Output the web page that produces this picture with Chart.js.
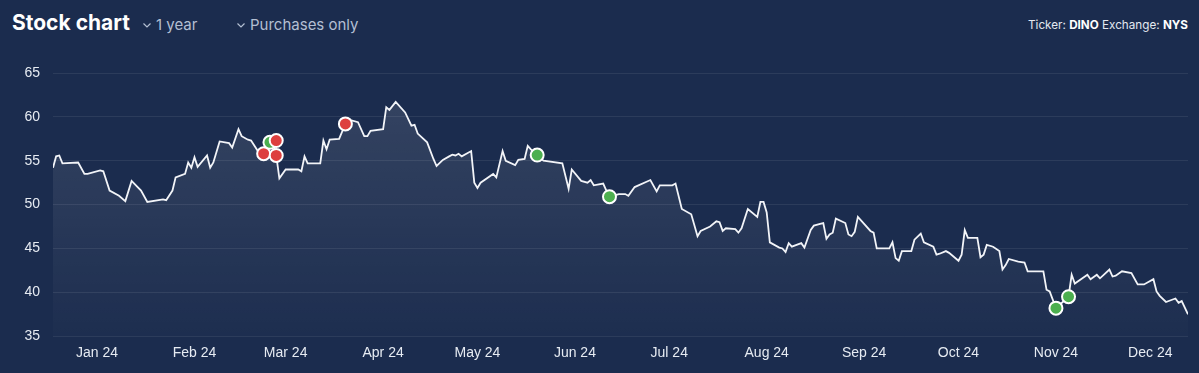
<!DOCTYPE html>
<html>
<head>
<meta charset="utf-8">
<script src="https://cdn.jsdelivr.net/npm/chart.js@4.4.1/dist/chart.umd.min.js"></script>
<style>
  html, body { margin: 0; padding: 0; background: #1b2c4e; }
  body { width: 1199px; height: 373px; position: relative; overflow: hidden; font-family: Inter, "Noto Sans", sans-serif; }
  .abs { position: absolute; line-height: 1; white-space: nowrap; }
  #title { left: 12px; top: 12px; font-size: 21px; font-weight: 700; color: #ffffff; }
  .pick { font-size: 15px; color: #b3bfd2; top: 17px; }
  .pick svg { vertical-align: 2px; margin-right: 5px; }
  #ticker { right: 11px; top: 20px; font-size: 11.7px; color: #e3e8f0; }
  #ticker b { color: #fff; }
  #wrap { position: absolute; left: 0; top: 0; width: 1199px; height: 373px; }
</style>
</head>
<body>
<div id="title" class="abs">Stock chart</div>
<div class="abs pick" style="left:143px"><svg width="8" height="5"><polyline points="0.5,0.5 4,4 7.5,0.5" fill="none" stroke="#b3bfd2" stroke-width="1.2"/></svg>1 year</div>
<div class="abs pick" style="left:237px"><svg width="8" height="5"><polyline points="0.5,0.5 4,4 7.5,0.5" fill="none" stroke="#b3bfd2" stroke-width="1.2"/></svg>Purchases only</div>
<div id="ticker" class="abs">Ticker: <b>DINO</b> Exchange: <b>NYS</b></div>
<div id="wrap"><canvas id="stockChart"></canvas></div>
<script>
// days counted from 2023-12-18
var startDate = Date.UTC(2023, 11, 18);
var days = [0, 1, 2, 3, 8, 10, 11, 15, 16, 18, 21, 23, 25, 28, 30, 35, 36, 38, 39, 42,
  43, 44, 45, 46, 49, 50, 51, 53, 56, 57, 59, 60, 62, 63, 65, 67, 69, 70, 71, 72,
  74, 78, 79, 80, 81, 85, 86, 87, 88, 91, 93, 95, 97, 99, 100, 101, 105, 106, 107, 109,
  112, 114, 115, 116, 119, 121, 122, 124, 126, 127, 128, 129, 130, 133, 134, 135, 136, 140, 141, 143,
  144, 147, 148, 150, 151, 152, 154, 156, 162, 164, 165, 168, 170, 171, 172, 175, 176, 177, 180, 182,
  183, 185, 190, 192, 193, 197, 198, 200, 203, 205, 206, 209, 211, 212, 213, 214, 217, 218, 219, 221,
  224, 225, 226, 227, 228, 231, 232, 233, 234, 235, 238, 239, 241, 242, 244, 245, 246, 247, 248, 249,
  252, 253, 254, 255, 256, 260, 261, 262, 266, 267, 268, 269, 270, 273, 274, 276, 277, 280, 281, 282,
  284, 285, 288, 289, 290, 291, 294, 295, 296, 297, 299, 301, 302, 303, 304, 307, 309, 310, 311, 315,
  316, 317, 319, 323, 324, 325, 329, 330, 332, 333, 336, 337, 338, 340, 343, 345, 347, 350, 351, 352,
  354, 357, 358, 359, 361];
var prices = [54.2, 55.5, 55.6, 54.7, 54.8, 53.5, 53.5, 53.9, 53.8, 51.6, 51.0, 50.4, 52.7, 51.6, 50.3, 50.6, 50.5, 51.6, 53.1, 53.5,
  54.8, 54.2, 55.4, 54.3, 55.6, 54.2, 54.8, 57.2, 57.0, 56.5, 58.6, 57.8, 57.4, 57.3, 56.2, 55.8, 57.1, 57.2, 55.6, 53.0,
  54.0, 54.0, 53.8, 55.5, 54.7, 54.7, 57.3, 56.3, 57.4, 57.5, 59.2, 59.6, 59.4, 57.8, 57.8, 58.4, 58.6, 61.1, 60.8, 61.7,
  60.5, 59.0, 59.1, 58.1, 57.1, 55.2, 54.4, 55.1, 55.5, 55.7, 55.6, 55.8, 55.5, 56.1, 52.5, 51.9, 52.5, 53.5, 53.1, 56.1,
  55.0, 54.5, 55.1, 55.2, 56.7, 56.3, 55.6, 55.0, 54.7, 51.8, 54.0, 52.7, 52.5, 52.8, 52.2, 52.4, 51.6, 50.9, 51.2, 51.2,
  51.0, 52.0, 52.8, 51.5, 52.2, 52.2, 52.4, 49.5, 48.9, 46.4, 47.0, 47.5, 48.1, 48.0, 47.0, 47.3, 47.2, 46.8, 47.3, 49.5,
  48.6, 50.3, 50.3, 49.1, 45.7, 45.1, 45.0, 44.6, 45.6, 45.2, 45.6, 45.1, 47.1, 47.6, 47.8, 47.9, 46.1, 46.6, 46.8, 48.4,
  47.9, 46.6, 46.4, 46.9, 48.6, 47.0, 46.8, 45.0, 45.0, 45.7, 43.9, 43.6, 44.7, 44.7, 46.0, 46.7, 45.7, 45.2, 44.3, 44.4,
  44.7, 44.5, 43.6, 44.3, 47.1, 46.2, 46.2, 44.0, 44.3, 45.4, 45.2, 44.7, 42.6, 43.1, 43.8, 43.5, 43.4, 42.4, 42.4, 42.4,
  40.3, 40.1, 38.2, 39.5, 42.0, 41.0, 42.0, 41.5, 42.0, 41.6, 42.6, 41.8, 41.9, 42.4, 42.2, 40.9, 40.9, 41.5, 40.1, 39.6,
  38.9, 39.3, 38.8, 39.0, 37.5];

// insider trades
var buyDays = [69, 154, 177, 319, 323];
var buyPrices = [57.1, 55.65, 50.9, 38.2, 39.5];
var sellDays = [67, 71, 71, 93];
var sellPrices = [55.8, 57.3, 55.6, 59.2];

var monthLabels = ['Jan 24', 'Feb 24', 'Mar 24', 'Apr 24', 'May 24', 'Jun 24', 'Jul 24', 'Aug 24', 'Sep 24', 'Oct 24', 'Nov 24', 'Dec 24'];
var monthDays = monthLabels.map(function (l, i) {
    return Math.round((Date.UTC(2024, i, 1) - startDate) / 86400000);
});

function toPoints(xs, ys) {
    return xs.map(function (x, i) { return { x: x, y: ys[i] }; });
}

function fillGradient(context) {
    var area = context.chart.chartArea;
    if (!area) return 'rgba(255,255,255,0.06)';
    var g = context.chart.ctx.createLinearGradient(0, area.top, 0, area.bottom);
    g.addColorStop(0, 'rgba(255,255,255,0.12)');
    g.addColorStop(1, 'rgba(255,255,255,0.01)');
    return g;
}

var ctx = document.getElementById('stockChart').getContext('2d');
var chart = new Chart(ctx, {
    type: 'line',
    data: {
        datasets: [
            {
                type: 'scatter',
                data: toPoints(sellDays, sellPrices),
                backgroundColor: '#dd3f3f',
                borderColor: '#ffffff',
                borderWidth: 2,
                pointRadius: 6.5,
                order: 0
            },
            {
                type: 'scatter',
                data: toPoints(buyDays, buyPrices),
                backgroundColor: '#4caf4f',
                borderColor: '#ffffff',
                borderWidth: 2,
                pointRadius: 6.5,
                order: 1
            },
            {
                data: toPoints(days, prices),
                borderColor: '#f2f4f8',
                borderWidth: 1.8,
                pointRadius: 0,
                tension: 0,
                fill: 'start',
                backgroundColor: fillGradient,
                order: 2
            }
        ]
    },
    options: {
        responsive: true,
        maintainAspectRatio: false,
        animation: false,
        layout: { padding: { top: 73, right: 11, bottom: 2, left: 0 } },
        plugins: { legend: { display: false }, tooltip: { enabled: false } },
        scales: {
            x: {
                type: 'linear',
                min: 0,
                max: 361,
                grid: { display: false, drawTicks: false },
                border: { display: false },
                afterBuildTicks: function (scale) {
                    scale.ticks = monthDays.map(function (d) { return { value: d }; });
                },
                ticks: {
                    autoSkip: false,
                    maxRotation: 0,
                    padding: 9,
                    color: '#e6ebf2',
                    font: { family: 'Liberation Sans', size: 14 },
                    callback: function (value) {
                        var i = monthDays.indexOf(value);
                        return i >= 0 ? monthLabels[i] : '';
                    }
                }
            },
            y: {
                min: 35,
                max: 65,
                grid: { color: 'rgba(255,255,255,0.08)', drawTicks: false },
                border: { display: false },
                afterFit: function (scale) { scale.width = 53; },
                ticks: {
                    stepSize: 5,
                    padding: 13,
                    color: '#e6ebf2',
                    font: { family: 'Liberation Sans', size: 14 }
                }
            }
        }
    }
});
</script>
</body>
</html>
